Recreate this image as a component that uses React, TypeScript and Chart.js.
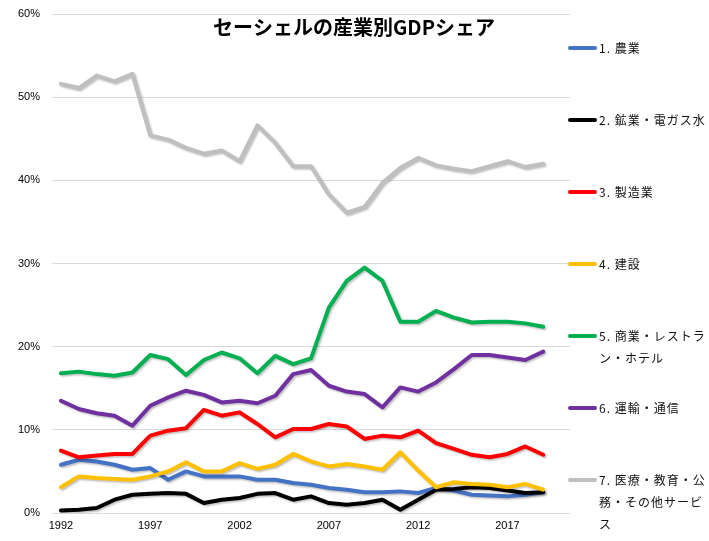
import React, { useEffect, useRef } from "react";
import { Chart, registerables } from "chart.js";

Chart.register(...registerables);

const years = [1992, 1993, 1994, 1995, 1996, 1997, 1998, 1999, 2000, 2001, 2002, 2003, 2004, 2005, 2006, 2007, 2008, 2009, 2010, 2011, 2012, 2013, 2014, 2015, 2016, 2017, 2018, 2019];
const xTickYears = [1992, 1997, 2002, 2007, 2012, 2017];
const yTicks = [0, 10, 20, 30, 40, 50, 60];

const agriculture = [5.8, 6.4, 6.2, 5.8, 5.2, 5.4, 4.0, 5.0, 4.4, 4.4, 4.4, 4.0, 4.0, 3.6, 3.4, 3.0, 2.8, 2.5, 2.5, 2.6, 2.4, 3.0, 2.7, 2.2, 2.1, 2.0, 2.2, 2.5];
const mining = [0.3, 0.4, 0.6, 1.6, 2.2, 2.3, 2.4, 2.3, 1.2, 1.6, 1.8, 2.3, 2.4, 1.6, 2.0, 1.2, 1.0, 1.2, 1.6, 0.4, 1.6, 2.8, 2.9, 3.1, 3.0, 2.7, 2.4, 2.5];
const manufacturing = [7.5, 6.7, 6.9, 7.1, 7.1, 9.3, 9.9, 10.2, 12.4, 11.7, 12.1, 10.7, 9.1, 10.1, 10.1, 10.7, 10.4, 8.9, 9.3, 9.1, 9.9, 8.4, 7.7, 7.0, 6.7, 7.1, 8.0, 7.0];
const construction = [3.1, 4.4, 4.2, 4.1, 4.0, 4.4, 5.0, 6.1, 5.0, 5.0, 6.0, 5.3, 5.8, 7.1, 6.2, 5.6, 5.9, 5.6, 5.2, 7.3, 5.1, 3.1, 3.7, 3.5, 3.4, 3.1, 3.5, 2.8];
const commerce = [16.8, 17.0, 16.7, 16.5, 16.9, 19.0, 18.5, 16.6, 18.4, 19.3, 18.6, 16.8, 18.9, 17.9, 18.6, 24.7, 27.9, 29.5, 27.9, 23.0, 23.0, 24.3, 23.5, 22.9, 23.0, 23.0, 22.8, 22.4];
const transport = [13.5, 12.5, 12.0, 11.7, 10.5, 12.9, 13.9, 14.7, 14.2, 13.3, 13.5, 13.2, 14.1, 16.7, 17.2, 15.3, 14.6, 14.3, 12.7, 15.1, 14.6, 15.7, 17.3, 19.0, 19.0, 18.7, 18.4, 19.4];
const services = [51.6, 51.1, 52.6, 51.9, 52.8, 45.4, 44.9, 43.9, 43.2, 43.6, 42.3, 46.6, 44.5, 41.7, 41.7, 38.3, 36.1, 36.8, 39.7, 41.5, 42.7, 41.8, 41.4, 41.1, 41.7, 42.3, 41.6, 42.0];

const seriesNames = ["1. 農業", "2. 鉱業・電ガス水", "3. 製造業", "4. 建設", "5. 商業・レストラン・ホテル", "6. 運輸・通信", "7. 医療・教育・公務・その他サービス"];
const legendLines = [
  ["1. 農業"],
  ["2. 鉱業・電ガス水"],
  ["3. 製造業"],
  ["4. 建設"],
  ["5. 商業・レストラ", "ン・ホテル"],
  ["6. 運輸・通信"],
  ["7. 医療・教育・公", "務・その他サービ", "ス"],
];
const seriesValues = [agriculture, mining, manufacturing, construction, commerce, transport, services];
const colors = ["#4472C4", "#000000", "#FF0000", "#FFC000", "#00B050", "#7030A0", "#BFBFBF"];
const titleText = "セーシェルの産業別GDPシェア";

const JP = '"Noto Sans CJK JP", "Noto Sans", sans-serif';

export default function App() {
  const ref = useRef<HTMLCanvasElement | null>(null);

  useEffect(() => {
    document.body.style.margin = "0";
    const canvas = ref.current;
    if (!canvas) return;

    const shadowPlugin = {
      id: "shadow",
      beforeDatasetDraw(chart: any) {
        const ctx = chart.ctx;
        ctx.save();
        ctx.shadowColor = "rgba(0,0,0,0.25)";
        ctx.shadowOffsetX = 1.5;
        ctx.shadowOffsetY = 1.5;
        ctx.shadowBlur = 2;
      },
      afterDatasetDraw(chart: any) {
        chart.ctx.restore();
      },
    };

    const overlayPlugin = {
      id: "overlay",
      afterDraw(chart: any) {
        const ctx = chart.ctx as CanvasRenderingContext2D;
        ctx.save();
        // title
        ctx.fillStyle = "#000";
        ctx.font = `bold 20px ${JP}`;
        ctx.textAlign = "center";
        ctx.textBaseline = "middle";
        ctx.fillText(titleText, 354, 27);
        // legend
        ctx.font = `12px ${JP}`;
        (ctx as any).letterSpacing = "1px";
        ctx.textAlign = "left";
        legendLines.forEach((lines, i) => {
          const y0 = 48 + 72 * i;
          ctx.strokeStyle = colors[i];
          ctx.lineWidth = 4;
          ctx.lineCap = "round";
          ctx.beginPath();
          ctx.moveTo(570, y0);
          ctx.lineTo(595, y0);
          ctx.stroke();
          ctx.fillStyle = "#111";
          lines.forEach((ln, j) => {
            ctx.fillText(ln, 599, y0 + 22 * j);
          });
        });
        ctx.restore();
      },
    };

    const chart = new Chart(canvas, {
      type: "line",
      data: {
        datasets: seriesValues.map((vals, i) => ({
          label: seriesNames[i],
          data: vals.map((v, k) => ({ x: years[k], y: v })),
          borderColor: colors[i],
          backgroundColor: colors[i],
          borderWidth: 4,
          pointRadius: 0,
          tension: 0,
          borderJoinStyle: "round" as const,
          borderCapStyle: "round" as const,
          order: seriesValues.length - i,
        })),
      },
      options: {
        animation: false,
        responsive: false,
        maintainAspectRatio: false,
        layout: { padding: { top: 14, right: 139, bottom: 0, left: 0 } },
        plugins: {
          legend: { display: false },
          title: { display: false },
          tooltip: { enabled: false },
        },
        scales: {
          x: {
            type: "linear",
            min: 1991.5,
            max: 2020.5,
            grid: { display: false, drawTicks: false },
            border: { display: false },
            afterBuildTicks: (scale: any) => {
              scale.ticks = xTickYears.map((v) => ({ value: v }));
            },
            afterFit: (scale: any) => {
              scale.height = 28;
              scale.paddingLeft = 0;
              scale.paddingRight = 0;
            },
            ticks: {
              padding: 6,
              maxRotation: 0,
              autoSkip: false,
              color: "#000",
              font: { family: '"Liberation Sans", Arial, sans-serif', size: 11 },
              callback: (v: any) => String(v),
            },
          },
          y: {
            min: 0,
            max: 60,
            grid: { color: "#D9D9D9", lineWidth: 1, drawTicks: false },
            border: { display: false },
            afterBuildTicks: (scale: any) => {
              scale.ticks = yTicks.map((v) => ({ value: v }));
            },
            afterFit: (scale: any) => {
              scale.width = 52;
              scale.paddingTop = 0;
              scale.paddingBottom = 0;
            },
            ticks: {
              padding: 12,
              color: "#000",
              font: { family: '"Liberation Sans", Arial, sans-serif', size: 11 },
              callback: (v: any) => `${v}%`,
            },
          },
        },
      },
      plugins: [shadowPlugin, overlayPlugin],
    });

    return () => chart.destroy();
  }, []);

  return <canvas ref={ref} width={709} height={541} style={{ display: "block" }} />;
}
